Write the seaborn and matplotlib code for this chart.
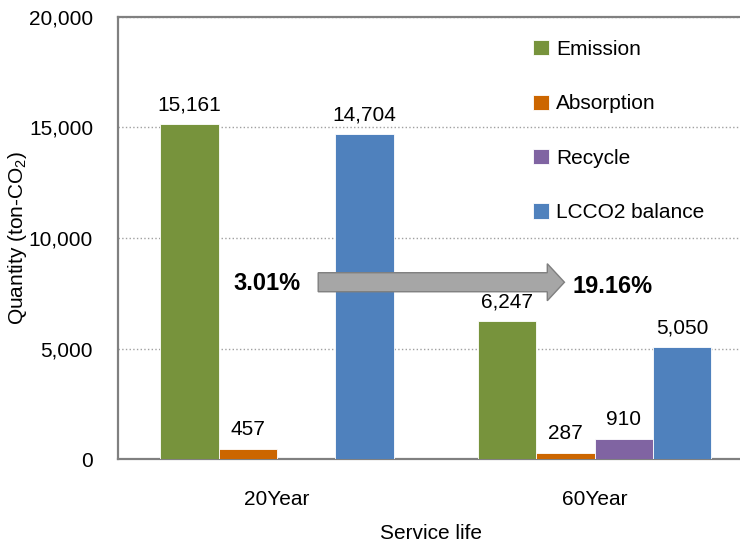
import pandas as pd
import numpy as np
import matplotlib
matplotlib.use("Agg")
import matplotlib.pyplot as plt
from matplotlib.patches import FancyArrow
from matplotlib.ticker import FuncFormatter
import seaborn as sns

# --- datos ---
periods = ["20Year", "60Year"]
series = ["Emission", "Absorption", "Recycle", "LCCO2 balance"]
emission = [15161, 6247]
absorption = [457, 287]
recycle = [0, 910]
balance = [14704, 5050]
colors = ["#77933C", "#CC6600", "#8064A2", "#4F81BD"]
ratio_labels = ["3.01%", "19.16%"]

df = pd.DataFrame({
    "period": periods * 4,
    "series": [s for s in series for _ in periods],
    "value": emission + absorption + recycle + balance,
})

sns.set_style("white")
plt.rcParams["font.family"] = ["Liberation Sans", "DejaVu Sans"]
plt.rcParams["mathtext.fontset"] = "custom"
plt.rcParams["mathtext.rm"] = "Liberation Sans"
plt.rcParams["mathtext.it"] = "Liberation Sans:italic"
plt.rcParams["text.color"] = "black"
plt.rcParams["axes.labelcolor"] = "black"
plt.rcParams["xtick.color"] = "black"
plt.rcParams["ytick.color"] = "black"

FS = 15

fig = plt.figure(figsize=(7.4, 5.44), dpi=100)
ax = fig.add_axes([0.1595, 0.156, 0.845, 0.813])

sns.barplot(data=df, x="period", y="value", hue="series", order=periods,
            hue_order=series, palette=colors, saturation=1, width=0.734, ax=ax,
            edgecolor="white", linewidth=0.6, errorbar=None, zorder=3)

# etiquetas de valores (sin la barra vacía)
for cont in ax.containers:
    vals = [b.get_height() for b in cont]
    labs = [f"{v:,.0f}" if v > 0 else "" for v in vals]
    ax.bar_label(cont, labels=labs, padding=7, fontsize=FS)

ax.set_ylim(0, 20000)
ax.set_xlim(-0.5, 1.468)
ax.set_yticks(np.arange(0, 20001, 5000))
ax.yaxis.set_major_formatter(FuncFormatter(lambda v, p: f"{v:,.0f}"))
ax.tick_params(axis="y", length=0, pad=18, labelsize=FS)
ax.tick_params(axis="x", length=0, pad=22, labelsize=FS)
ax.grid(axis="y", linestyle=":", color="#A0A0A0", linewidth=1.0, zorder=0)
ax.set_axisbelow(True)

for side in ["left", "bottom", "top", "right"]:
    ax.spines[side].set_color("#808080")
    ax.spines[side].set_linewidth(1.6)
ax.spines["right"].set_visible(False)

ax.set_xlabel("Service life", fontsize=FS, labelpad=11)
ax.set_ylabel("Quantity (ton-CO$_2$)", fontsize=FS, labelpad=0)

# flecha
arrow = FancyArrow(0.13, 8000, 0.775, 0, width=860, head_width=1675,
                   head_length=0.054, length_includes_head=True,
                   facecolor="#A6A6A6", edgecolor="#7F7F7F", linewidth=1.0,
                   zorder=4)
ax.add_patch(arrow)
ax.text(-0.03, 7950, ratio_labels[0], fontsize=17, fontweight="bold",
        ha="center", va="center", zorder=5)
ax.text(1.055, 7800, ratio_labels[1], fontsize=17, fontweight="bold",
        ha="center", va="center", zorder=5)

leg = ax.legend(loc="upper right", bbox_to_anchor=(0.968, 0.99), frameon=False,
                fontsize=FS, labelspacing=1.7, handlelength=0.75,
                handleheight=0.75, handletextpad=0.35)

fig.savefig("out.png", dpi=100)
